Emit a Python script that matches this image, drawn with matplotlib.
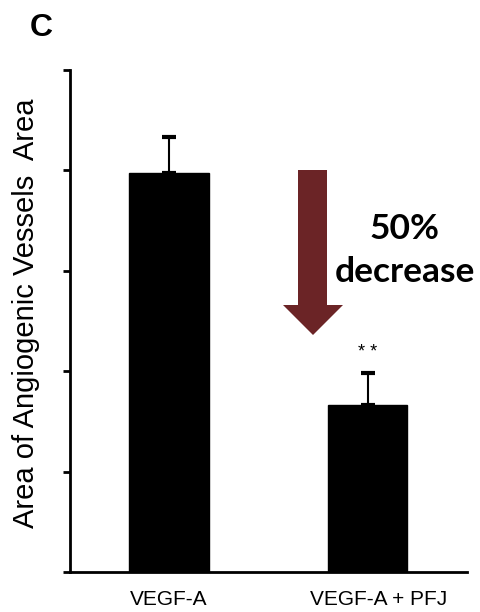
import matplotlib
matplotlib.use("Agg")
import matplotlib.pyplot as plt
import matplotlib.transforms as mtransforms
from matplotlib.patches import Polygon

categories = ["VEGF-A", "VEGF-A + PFJ"]
values = [3.97, 1.66]
errors = [0.36, 0.32]
yticks = [0, 1, 2, 3, 4, 5]

plt.rcParams['font.family'] = ['Liberation Sans', 'DejaVu Sans']

fig = plt.figure(figsize=(4.81, 6.12), dpi=100)
ax = fig.add_axes([69.5/481, 40/612, 397.5/481, 502/612])

x = list(range(len(categories)))
ax.bar(x, values, width=0.40, color='black', edgecolor='black', zorder=2)
ax.errorbar(x, values, yerr=[[0, 0], errors], fmt='none', ecolor='black',
            elinewidth=1.5, capsize=5, capthick=3, zorder=3)

ax.set_xlim(-0.5, 1.5)
ax.set_ylim(0, 5)
ax.set_yticks(yticks)
ax.set_yticklabels([])
ax.set_xticks(x)
ax.set_xticklabels(categories, fontsize=15)
ax.tick_params(axis='x', length=0, pad=13)
ax.tick_params(axis='y', length=5, width=2, direction='out')
for s in ['top', 'right']:
    ax.spines[s].set_visible(False)
for s in ['left', 'bottom']:
    ax.spines[s].set_linewidth(2)
ax.spines['bottom'].set_bounds(-0.5, 1.5)

# second label sits slightly right of its bar in the reference
lbl = ax.get_xticklabels()[1]
lbl.set_transform(lbl.get_transform() + mtransforms.ScaledTranslation(0.11, 0, fig.dpi_scale_trans))

ax.set_ylabel("Area of Angiogenic Vessels  Area", fontsize=21)
ax.yaxis.set_label_coords((40 - 69.5) / 397.5, (572 - 313) / 502)

# significance stars
ax.text(x[1], values[1] + errors[1] + 0.12, "* *", ha='center', va='bottom', fontsize=13)

# arrow annotation (axes fraction)
def fx(px):
    return (px - 69.5) / 397.5
def fy(py):
    return (572 - py) / 502
arrow = Polygon([
    (fx(298), fy(170)), (fx(327), fy(170)), (fx(327), fy(305)), (fx(343), fy(305)),
    (fx(313), fy(335)), (fx(283), fy(305)), (fx(298), fy(305))],
    closed=True, transform=ax.transAxes, facecolor='#6B2426', edgecolor='none', zorder=4)
ax.add_patch(arrow)

ax.text(fx(405), fy(229), "50%", transform=ax.transAxes, ha='center', va='center',
        fontsize=25.5, fontweight='bold', family=['Lato', 'DejaVu Sans'])
ax.text(fx(405), fy(272), "decrease", transform=ax.transAxes, ha='center', va='center',
        fontsize=25.5, fontweight='bold', family=['Lato', 'DejaVu Sans'])

fig.text(41/481, 1 - 28/612, "C", ha='center', va='center', fontsize=23, fontweight='bold')

fig.savefig("out.png", dpi=100)
